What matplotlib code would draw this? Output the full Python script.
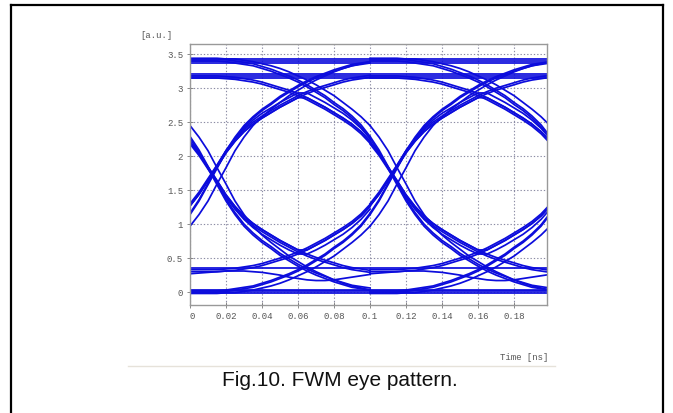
import numpy as np
import matplotlib
matplotlib.use("Agg")
import matplotlib.pyplot as plt
from matplotlib.lines import Line2D

W, H = 673, 413

# sample times inside one bit slot [ns]; the eye shows two slots
t_slot = [0.000, 0.005, 0.010, 0.015, 0.020, 0.025, 0.030, 0.035, 0.040, 0.045, 0.050,
          0.055, 0.060, 0.065, 0.070, 0.075, 0.080, 0.085, 0.090, 0.095, 0.100]
slot_starts = [0.0, 0.1]

rise_a     = [1.27, 1.44, 1.64, 1.84, 2.05, 2.22, 2.36, 2.47, 2.56, 2.64, 2.72, 2.79, 2.86, 2.92, 2.97, 3.01, 3.05, 3.09, 3.12, 3.14, 3.16]
fall_a     = [2.21, 2.04, 1.84, 1.64, 1.43, 1.26, 1.12, 1.01, 0.92, 0.84, 0.76, 0.69, 0.62, 0.56, 0.51, 0.47, 0.43, 0.39, 0.36, 0.34, 0.32]
leave_hi_a = [3.18, 3.18, 3.18, 3.18, 3.17, 3.16, 3.14, 3.12, 3.09, 3.05, 3.01, 2.97, 2.92, 2.86, 2.79, 2.72, 2.64, 2.56, 2.47, 2.36, 2.22]
leave_lo_a = [0.30, 0.30, 0.30, 0.30, 0.31, 0.32, 0.34, 0.36, 0.39, 0.43, 0.47, 0.51, 0.56, 0.62, 0.69, 0.76, 0.84, 0.92, 1.01, 1.12, 1.26]
peak_a     = [1.27, 1.44, 1.64, 1.84, 2.05, 2.22, 2.36, 2.47, 2.56, 2.64, 2.72, 2.79, 2.86, 2.86, 2.79, 2.72, 2.64, 2.56, 2.47, 2.36, 2.22]
peak_a2    = [1.27, 1.44, 1.65, 1.86, 2.08, 2.26, 2.41, 2.53, 2.63, 2.71, 2.79, 2.86, 2.93, 2.93, 2.86, 2.79, 2.71, 2.63, 2.53, 2.41, 2.26]
dip_a      = [2.21, 2.04, 1.84, 1.64, 1.43, 1.26, 1.12, 1.01, 0.92, 0.84, 0.76, 0.69, 0.62, 0.62, 0.69, 0.76, 0.84, 0.92, 1.01, 1.12, 1.26]
dip_a2     = [2.21, 2.04, 1.83, 1.62, 1.40, 1.22, 1.07, 0.95, 0.85, 0.77, 0.69, 0.62, 0.56, 0.56, 0.62, 0.69, 0.77, 0.85, 0.95, 1.07, 1.22]
rise_b     = [1.14, 1.34, 1.58, 1.82, 2.06, 2.26, 2.43, 2.56, 2.67, 2.76, 2.86, 2.94, 3.02, 3.09, 3.15, 3.20, 3.25, 3.29, 3.33, 3.35, 3.37]
fall_b     = [2.26, 2.06, 1.82, 1.58, 1.34, 1.14, 0.97, 0.84, 0.73, 0.64, 0.54, 0.46, 0.38, 0.31, 0.25, 0.20, 0.15, 0.11, 0.07, 0.05, 0.03]
leave_hi_b = [3.40, 3.40, 3.40, 3.40, 3.39, 3.37, 3.35, 3.33, 3.29, 3.25, 3.20, 3.15, 3.09, 3.02, 2.94, 2.86, 2.76, 2.67, 2.56, 2.43, 2.26]
leave_lo_b = [0.00, 0.00, 0.00, 0.00, 0.01, 0.03, 0.05, 0.07, 0.11, 0.15, 0.20, 0.25, 0.31, 0.38, 0.46, 0.54, 0.64, 0.73, 0.84, 0.97, 1.14]
rise_c     = [0.97, 1.14, 1.34, 1.59, 1.83, 2.08, 2.28, 2.45, 2.58, 2.69, 2.79, 2.89, 2.97, 3.05, 3.12, 3.18, 3.24, 3.29, 3.33, 3.36, 3.39]
fall_c     = [2.45, 2.28, 2.08, 1.83, 1.59, 1.34, 1.14, 0.97, 0.84, 0.73, 0.63, 0.53, 0.45, 0.37, 0.30, 0.24, 0.18, 0.13, 0.09, 0.06, 0.03]
leave_hi_c = [3.44, 3.44, 3.44, 3.44, 3.43, 3.43, 3.41, 3.39, 3.36, 3.33, 3.29, 3.24, 3.18, 3.12, 3.05, 2.97, 2.89, 2.79, 2.69, 2.58, 2.45]
leave_lo_c = [-0.02, -0.02, -0.02, -0.02, -0.01, -0.01, 0.01, 0.03, 0.06, 0.09, 0.13, 0.18, 0.24, 0.30, 0.37, 0.45, 0.53, 0.63, 0.73, 0.84, 0.97]
wavy_low   = [0.27, 0.28, 0.29, 0.30, 0.31, 0.31, 0.31, 0.30, 0.29, 0.27, 0.25, 0.22, 0.20, 0.18, 0.17, 0.17, 0.18, 0.20, 0.22, 0.24, 0.26]

# spread of the overlapping copies of each shape (band thickness) [a.u.];
# shapes that join at a slot edge share the same spread
shape_spread = [
    (rise_a, [0.0, 0.03]), (leave_lo_a, [0.0, 0.03]),
    (fall_a, [0.0, -0.03]), (leave_hi_a, [0.0, -0.03]),
    (peak_a, [0.0]), (peak_a2, [0.0]),
    (dip_a, [0.0]), (dip_a2, [0.0]),
    (rise_b, [0.0, 0.02]), (leave_lo_b, [0.0, 0.02]),
    (fall_b, [0.0, 0.03]), (leave_hi_b, [0.0, 0.03]),
    (rise_c, [0.0]), (leave_lo_c, [0.0]),
    (fall_c, [0.0]), (leave_hi_c, [0.0]),
    (wavy_low, [0.0]),
]

# steady levels (long runs of ones / zeros)
steady_levels = [3.15, 3.18, 3.21, 3.37, 3.40, 3.43, -0.01, 0.01, 0.03, 0.36]

x_ticks = [0, 0.02, 0.04, 0.06, 0.08, 0.1, 0.12, 0.14, 0.16, 0.18]
x_labels = ["0", "0.02", "0.04", "0.06", "0.08", "0.1", "0.12", "0.14", "0.16", "0.18"]
y_ticks = [0, 0.5, 1, 1.5, 2, 2.5, 3, 3.5]
y_labels = ["0", "0.5", "1", "1.5", "2", "2.5", "3", "3.5"]

TRACE = "#0c0cdc"
TICKFONT = dict(family="Liberation Mono", size=6.5, color="#555555")

fig = plt.figure(figsize=(W / 100, H / 100), dpi=100)
fig.patch.set_facecolor("white")
ax = fig.add_axes([190 / W, 1 - 305 / H, 357 / W, 261 / H])

t = np.array(t_slot)
for curve, spread in shape_spread:
    for s0 in slot_starts:
        for off in spread:
            ax.plot(t + s0, np.array(curve) + off, color=TRACE, lw=1.25)
for lv in steady_levels:
    ax.axhline(lv, color=TRACE, lw=1.25)

ax.set_xlim(0, 0.1983)
ax.set_ylim(-0.19, 3.65)
ax.set_xticks(x_ticks)
ax.set_xticklabels(x_labels, fontdict=TICKFONT)
ax.set_yticks(y_ticks)
ax.set_yticklabels(y_labels, fontdict=TICKFONT)
ax.get_xticklabels()[0].set_ha("left")
ax.tick_params(direction="inout", length=4, width=0.6, color="#777777", pad=3)
ax.grid(True, color="#8c8ca4", linestyle=(0, (1.2, 1.8)), lw=0.8)
for sp in ax.spines.values():
    sp.set_color("#999999")
    sp.set_linewidth(1.0)

def fx(x):
    return x / W

def fy(y):
    return 1 - y / H

fig.text(fx(156), fy(36), "[a.u.]", ha="center", va="center", **TICKFONT)
fig.text(fx(548), fy(358), "Time [ns]", ha="right", va="center", **TICKFONT)
fig.add_artist(Line2D([fx(128), fx(555)], [fy(366), fy(366)], color="#e6e2da", lw=1.0))

fig.text(fx(340), fy(381), "Fig.10. FWM eye pattern.", ha="center", va="center",
         family="Liberation Sans", size=15, color="#111111")

# outer frame of the figure box
fig.add_artist(Line2D([fx(11), fx(11)], [0, fy(5)], color="black", lw=1.6))
fig.add_artist(Line2D([fx(11), fx(663)], [fy(5), fy(5)], color="black", lw=1.6))
fig.add_artist(Line2D([fx(663), fx(663)], [0, fy(5)], color="black", lw=1.6))

fig.savefig("out.png", dpi=100, facecolor="white")
